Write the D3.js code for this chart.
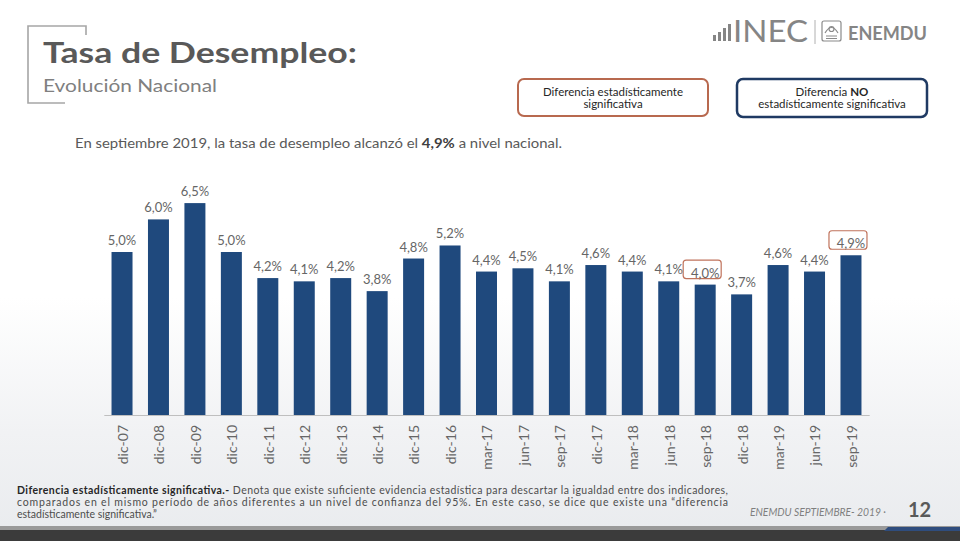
<!DOCTYPE html>
<html><head><meta charset="utf-8">
<script src="https://cdn.jsdelivr.net/npm/d3@7"></script>
<style>body{margin:0;background:#fff}svg{display:block}</style>
</head><body>
<script>
const categories = ["dic-07","dic-08","dic-09","dic-10","dic-11","dic-12","dic-13","dic-14","dic-15","dic-16","mar-17","jun-17","sep-17","dic-17","mar-18","jun-18","sep-18","dic-18","mar-19","jun-19","sep-19"];
const values = [5.0,6.0,6.5,5.0,4.2,4.1,4.2,3.8,4.8,5.2,4.4,4.5,4.1,4.6,4.4,4.1,4.0,3.7,4.6,4.4,4.9];
const significant = ["sep-18","sep-19"];

const W = 960, H = 541;
const svg = d3.select("body").append("svg").attr("width", W).attr("height", H);
const defs = svg.append("defs");
const g1 = defs.append("linearGradient").attr("id","bg").attr("x1",0).attr("y1",0).attr("x2",0).attr("y2",1);
g1.append("stop").attr("offset","0").attr("stop-color","#ffffff");
g1.append("stop").attr("offset","0.55").attr("stop-color","#ffffff");
g1.append("stop").attr("offset","0.8").attr("stop-color","#f1f2f4");
g1.append("stop").attr("offset","1").attr("stop-color","#e9ebee");
svg.append("rect").attr("width",W).attr("height",H).attr("fill","url(#bg)");

// bottom band
svg.append("rect").attr("x",0).attr("y",526).attr("width",W).attr("height",4).attr("fill","#9a9a9a");
svg.append("rect").attr("x",0).attr("y",530).attr("width",W).attr("height",11).attr("fill","#3b3b3b");
svg.append("path").attr("d","M888,527 L960,527 L960,531 L884,531 Z").attr("fill","#2f4d7e");

// title bracket
svg.append("path").attr("d","M86,35 L86,26 L28,26 L28,103 L65,103").attr("fill","none").attr("stroke","#a6a6a6").attr("stroke-width",1.6);
svg.append("text").attr("x",43).attr("y",63).attr("font-family","Lato, 'Open Sans', sans-serif").attr("font-weight","bold").attr("font-size",29).attr("fill","#595959").attr("textLength",314).attr("lengthAdjust","spacingAndGlyphs").text("Tasa de Desempleo:");
svg.append("text").attr("x",43).attr("y",92).attr("font-family","Lato, 'Open Sans', sans-serif").attr("font-size",18).attr("fill","#808080").attr("textLength",174).attr("lengthAdjust","spacingAndGlyphs").text("Evolución Nacional");

// logo
const logo = svg.append("g").attr("fill","#858585");
[[713,35,3,6],[718,32,3,9],[723,28,3,13],[728,24,3,17]].forEach(d=>logo.append("rect").attr("x",d[0]).attr("y",d[1]).attr("width",d[2]).attr("height",d[3]));
logo.append("text").attr("x",733).attr("y",42).attr("font-family","Lato, sans-serif").attr("font-size",30).attr("fill","#858585").attr("textLength",75).attr("lengthAdjust","spacingAndGlyphs").text("INEC");
svg.append("line").attr("x1",815).attr("x2",815).attr("y1",20).attr("y2",44).attr("stroke","#b0b0b0").attr("stroke-width",1);
const em = svg.append("g").attr("fill","none").attr("stroke","#8a8a8a").attr("stroke-width",1.2);
em.append("rect").attr("x",822).attr("y",21).attr("width",19).attr("height",20).attr("rx",2);
em.append("path").attr("d","M825,33 Q831.5,22 838,33 M826,36 L837,36 M826,38.5 L837,38.5");
em.append("circle").attr("cx",831.5).attr("cy",29).attr("r",2.5);
svg.append("text").attr("x",848).attr("y",40).attr("font-family","Lato, sans-serif").attr("font-weight","bold").attr("font-size",18).attr("fill","#858585").attr("textLength",79).attr("lengthAdjust","spacingAndGlyphs").text("ENEMDU");

// legend boxes
const font = "Lato, 'Open Sans', sans-serif";
svg.append("rect").attr("x",518).attr("y",79).attr("width",190).attr("height",37).attr("rx",6).attr("fill","#fff").attr("stroke","#b8694f").attr("stroke-width",2);
svg.append("text").attr("x",613).attr("y",96).attr("text-anchor","middle").attr("font-family",font).attr("font-size",11.5).attr("fill","#262626").text("Diferencia estadísticamente");
svg.append("text").attr("x",613).attr("y",108).attr("text-anchor","middle").attr("font-family",font).attr("font-size",11.5).attr("fill","#262626").text("significativa");
svg.append("rect").attr("x",737).attr("y",79).attr("width",190).attr("height",38).attr("rx",6).attr("fill","#fff").attr("stroke","#1f3a63").attr("stroke-width",2.5);
const t2 = svg.append("text").attr("x",832).attr("y",96).attr("text-anchor","middle").attr("font-family",font).attr("font-size",11.5).attr("fill","#262626");
t2.append("tspan").text("Diferencia ");
t2.append("tspan").attr("font-weight","bold").text("NO");
svg.append("text").attr("x",832).attr("y",108).attr("text-anchor","middle").attr("font-family",font).attr("font-size",11.5).attr("fill","#262626").text("estadísticamente  significativa");

// subtitle sentence
const st = svg.append("text").attr("x",75).attr("y",148).attr("font-family",font).attr("font-size",13.5).attr("fill","#595959").attr("textLength",487).attr("lengthAdjust","spacingAndGlyphs");
st.append("tspan").text("En septiembre 2019, la tasa de desempleo alcanzó el ");
st.append("tspan").attr("font-weight","bold").attr("fill","#404040").text("4,9%");
st.append("tspan").text(" a nivel nacional.");

// chart
const x = d3.scaleBand().domain(categories).range([103.8, 869.2]).paddingInner(0.424).paddingOuter(0.212);
const y = d3.scaleLinear().domain([0, 7]).range([415, 415 - 7 * 32.6]);
const data = categories.map((c, i) => ({c, v: values[i], sig: significant.includes(c)}));
const fmt = v => d3.format(".1f")(v).replace(".", ",") + "%";

svg.append("g").selectAll("rect").data(data).join("rect")
  .attr("x", d => x(d.c)).attr("y", d => y(d.v))
  .attr("width", x.bandwidth()).attr("height", d => y(0) - y(d.v))
  .attr("fill", "#1f497d");

const lab = svg.append("g");
lab.selectAll("rect").data(data.filter(d => d.sig)).join("rect")
  .attr("x", d => x(d.c) + x.bandwidth()/2 - 22).attr("y", d => y(d.v) - 7 - 17.5)
  .attr("width", 38).attr("height", 18.5).attr("rx", 3)
  .attr("fill", "none").attr("stroke", "#c0735c").attr("stroke-width", 1.2);
lab.selectAll("text").data(data).join("text")
  .attr("x", d => x(d.c) + x.bandwidth()/2).attr("y", d => y(d.v) - 7)
  .attr("text-anchor", "middle").attr("font-family", font).attr("font-size", 13)
  .attr("fill", "#666666").text(d => fmt(d.v));

const ax = svg.append("g").attr("transform", "translate(0,415)")
  .call(d3.axisBottom(x).tickSize(0).tickPadding(0));
ax.select(".domain").attr("stroke", "#bfbfbf").attr("stroke-width", 1.2);
ax.selectAll("text")
  .attr("transform", "rotate(-90)").attr("text-anchor", "end")
  .attr("x", -10).attr("y", 0).attr("dy", "0.42em")
  .attr("font-family", font).attr("font-size", 14).attr("fill", "#666666");

// footer note
const fs = 10.5;
const f1 = svg.append("text").attr("x",17).attr("y",494).attr("font-family",font).attr("font-size",fs).attr("fill","#4d4d4d").attr("textLength",711).attr("lengthAdjust","spacing");
f1.append("tspan").attr("font-weight","bold").attr("fill","#262626").text("Diferencia estadísticamente significativa.-");
f1.append("tspan").text(" Denota que existe suficiente evidencia estadística para descartar la igualdad entre dos indicadores,");
svg.append("text").attr("x",17).attr("y",506).attr("font-family",font).attr("font-size",fs).attr("fill","#4d4d4d").attr("textLength",711).attr("lengthAdjust","spacing").text("comparados en el mismo período de años diferentes a un nivel de confianza del 95%. En este caso, se dice que existe una “diferencia");
svg.append("text").attr("x",17).attr("y",518).attr("font-family",font).attr("font-size",fs).attr("fill","#4d4d4d").text("estadísticamente significativa.”");

svg.append("text").attr("x",750).attr("y",516).attr("font-family",font).attr("font-style","italic").attr("font-size",11.5).attr("fill","#7f7f7f").attr("textLength",136).attr("lengthAdjust","spacingAndGlyphs").text("ENEMDU SEPTIEMBRE- 2019  ·");
svg.append("text").attr("x",908).attr("y",517).attr("font-family",font).attr("font-weight","bold").attr("font-size",20).attr("fill","#595959").text("12");
</script>
</body></html>
